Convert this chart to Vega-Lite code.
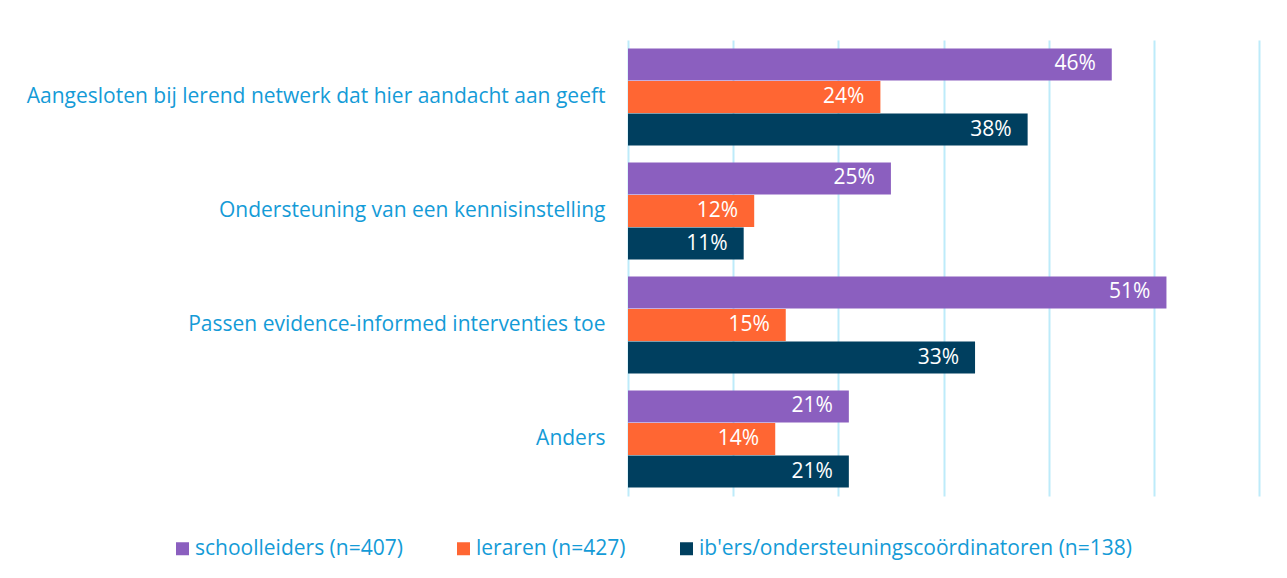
{
  "$schema": "https://vega.github.io/schema/vega-lite/v6.json",
  "autosize": {"type": "none"},
  "padding": {"left": 628, "top": 40, "right": 28, "bottom": 82},
  "width": 631,
  "height": 456,
  "background": "white",
  "config": {"view": {"stroke": null}, "font": "Open Sans"},
  "data": {
    "values": [
      {"categorie": "Aangesloten bij lerend netwerk dat hier aandacht aan geeft", "groep": "schoolleiders (n=407)", "waarde": 0.46},
      {"categorie": "Aangesloten bij lerend netwerk dat hier aandacht aan geeft", "groep": "leraren (n=427)", "waarde": 0.24},
      {"categorie": "Aangesloten bij lerend netwerk dat hier aandacht aan geeft", "groep": "ib'ers/ondersteuningscoördinatoren (n=138)", "waarde": 0.38},
      {"categorie": "Ondersteuning van een kennisinstelling", "groep": "schoolleiders (n=407)", "waarde": 0.25},
      {"categorie": "Ondersteuning van een kennisinstelling", "groep": "leraren (n=427)", "waarde": 0.12},
      {"categorie": "Ondersteuning van een kennisinstelling", "groep": "ib'ers/ondersteuningscoördinatoren (n=138)", "waarde": 0.11},
      {"categorie": "Passen evidence-informed interventies toe", "groep": "schoolleiders (n=407)", "waarde": 0.512},
      {"categorie": "Passen evidence-informed interventies toe", "groep": "leraren (n=427)", "waarde": 0.15},
      {"categorie": "Passen evidence-informed interventies toe", "groep": "ib'ers/ondersteuningscoördinatoren (n=138)", "waarde": 0.33},
      {"categorie": "Anders", "groep": "schoolleiders (n=407)", "waarde": 0.21},
      {"categorie": "Anders", "groep": "leraren (n=427)", "waarde": 0.14},
      {"categorie": "Anders", "groep": "ib'ers/ondersteuningscoördinatoren (n=138)", "waarde": 0.21}
    ]
  },
  "encoding": {
    "y": {
      "field": "categorie",
      "type": "nominal",
      "sort": null,
      "scale": {"paddingInner": 0.15, "paddingOuter": 0.075},
      "axis": {
        "title": null,
        "domain": false,
        "ticks": false,
        "labelPadding": 23,
        "labelFontSize": 21,
        "labelColor": "#149BD7",
        "labelLimit": 700,
        "labelFont": "Open Sans"
      }
    },
    "yOffset": {
      "field": "groep",
      "type": "nominal",
      "sort": ["schoolleiders (n=407)", "leraren (n=427)", "ib'ers/ondersteuningscoördinatoren (n=138)"],
      "scale": {"paddingInner": 0.02, "paddingOuter": 0}
    },
    "x": {
      "field": "waarde",
      "type": "quantitative",
      "scale": {"domain": [0, 0.6], "nice": false},
      "axis": {
        "title": null,
        "labels": false,
        "ticks": false,
        "domain": false,
        "grid": true,
        "gridColor": "#BDEBFA",
        "gridWidth": 2,
        "values": [0, 0.1, 0.2, 0.3, 0.4, 0.5, 0.6]
      }
    }
  },
  "layer": [
    {
      "mark": {"type": "bar"},
      "encoding": {
        "color": {
          "field": "groep",
          "type": "nominal",
          "sort": ["schoolleiders (n=407)", "leraren (n=427)", "ib'ers/ondersteuningscoördinatoren (n=138)"],
          "scale": {
            "domain": ["schoolleiders (n=407)", "leraren (n=427)", "ib'ers/ondersteuningscoördinatoren (n=138)"],
            "range": ["#8B5FBF", "#FF6633", "#003F5F"]
          },
          "legend": {
            "title": null,
            "orient": "none",
            "direction": "horizontal",
            "legendX": -456,
            "legendY": 498,
            "symbolType": "square",
            "symbolSize": 169,
            "symbolStrokeWidth": 0,
            "symbolOffset": 0,
            "labelFontSize": 21,
            "labelColor": "#149BD7",
            "labelFont": "Open Sans",
            "labelOffset": 2,
            "columnPadding": 50,
            "labelLimit": 700
          }
        }
      }
    },
    {
      "mark": {"type": "text", "align": "right", "baseline": "middle", "dx": -16, "color": "white", "fontSize": 21, "font": "Open Sans"},
      "encoding": {
        "text": {"field": "waarde", "type": "quantitative", "format": ".0%"}
      }
    }
  ]
}
